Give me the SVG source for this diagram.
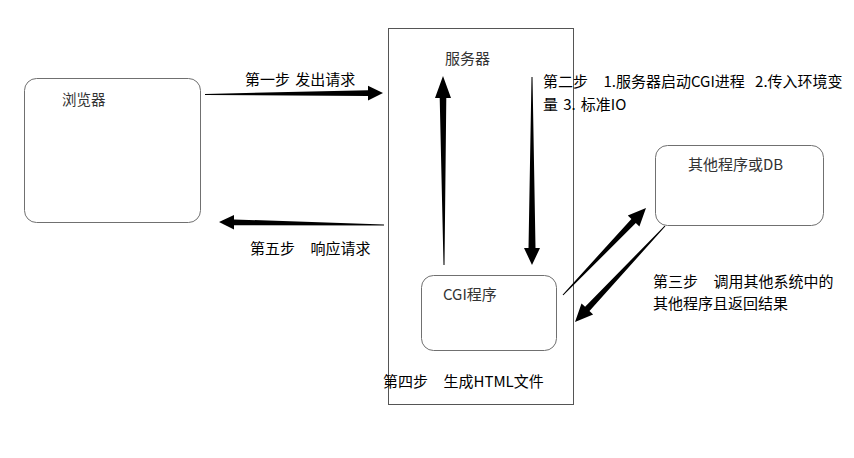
<svg xmlns="http://www.w3.org/2000/svg" width="854" height="458" viewBox="0 0 854 458">
<style>
text{font-family:"Microsoft YaHei","Noto Sans CJK SC","Noto Sans",sans-serif;font-size:15px;white-space:pre;word-spacing:1.8px;fill:#000}
.nl{fill:#333}
.box{fill:#fff;stroke:#707070;stroke-width:1}
.arr{fill:#000;stroke:none}
</style>
<rect width="854" height="458" fill="#fff"/>
<g id="server">
<rect x="388.5" y="28.5" width="185" height="376" fill="#fff" stroke="#555" stroke-width="1"/>
<text class="nl" x="445" y="64">服务器</text>
</g>
<g id="browser">
<rect class="box" x="24.5" y="78.5" width="176" height="144" rx="12"/>
<text class="nl" x="62" y="105" style="font-size:14.5px">浏览器</text>
</g>
<g id="cgi">
<rect class="box" x="421.5" y="275.5" width="135" height="75" rx="12"/>
<text class="nl" x="443" y="300">CGI程序</text>
</g>
<g id="other">
<rect class="box" x="655.5" y="145.5" width="168" height="80" rx="12"/>
<text class="nl" x="688" y="170">其他程序或DB</text>
</g>
<g id="connectors">
<polygon class="arr" points="205,94 368,90.2 368,85.8 383,93 368,100.4 368,96 205,95"/>
<polygon class="arr" points="384,224.5 234,219.4 234,215 219,222 234,229.5 234,225.2 384,225.5"/>
<polygon class="arr" points="443.5,265 439.7,98 435,98 443,76 451,98 446.3,98 444.5,265"/>
<polygon class="arr" points="531.5,77 528.5,248 524,248 532,265 540,248 535.5,248 532.5,77"/>
<polygon class="arr" points="562.6,294.7 631.4,218.9 627.8,215.5 646,208 639.4,226.5 635.8,223.1 563.4,295.3"/>
<polygon class="arr" points="664.6,225.7 585.1,306.8 581.5,303.4 575,322 593.1,314.4 589.5,311 665.4,226.3"/>
</g>
<g id="labels">
<text x="245" y="85">第一步 发出请求</text>
<text x="250" y="254">第五步   响应请求</text>
<text x="543" y="87">第二步   1.服务器启动CGI进程  2.传入环境变</text>
<text x="543" y="110">量 3. 标准IO</text>
<text x="653" y="287">第三步   调用其他系统中的</text>
<text x="653" y="309">其他程序且返回结果</text>
<text x="383" y="387">第四步   生成HTML文件</text>
</g>
</svg>
